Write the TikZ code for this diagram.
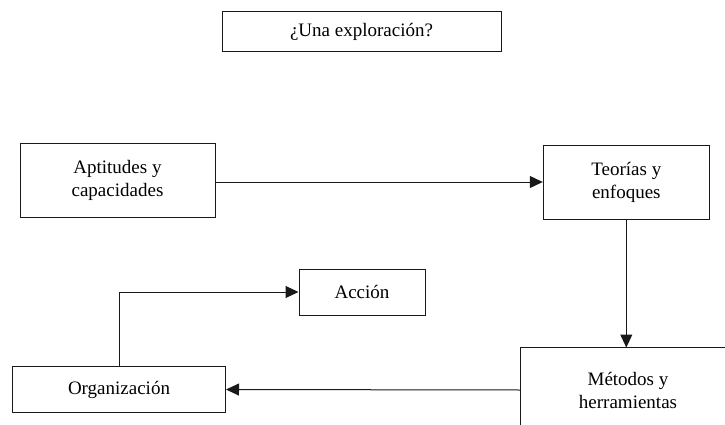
\documentclass[tikz,border=0pt]{standalone}
\usepackage{fontspec}
\setmainfont{Liberation Serif}
\usetikzlibrary{arrows.meta}

\begin{document}
\begin{tikzpicture}[x=1pt,y=-1pt,
  caja/.style={draw=black!90,line width=1pt,align=center,inner sep=0pt,
    font=\fontsize{19}{23}\selectfont},
  flecha/.style={draw=black!90,line width=1pt,-{Triangle[length=13pt,width=12pt]}}]
\useasboundingbox (0,0) rectangle (725,425);

\node[caja,minimum width=279,minimum height=40] (explora) at (361.5,32) {¿Una exploración?};
\node[caja,minimum width=195,minimum height=74] (aptitud) at (117.5,180) {Aptitudes y\\capacidades};
\node[caja,minimum width=166,minimum height=74] (teorias) at (626.3,182) {Teorías y\\enfoques};
\node[caja,minimum width=126,minimum height=46] (accion) at (362,292) {Acción};
\node[caja,minimum width=213,minimum height=46] (organiz) at (119,389.5) {Organización};
% la caja queda cortada por el borde derecho e inferior
\node[caja,draw=none,minimum width=215,minimum height=84] (metodos) at (628,390) {Métodos y\\herramientas};
\coordinate (borde) at (725,0);
\draw[black!90,line width=1pt] (metodos.south west |- 0,425) -- (metodos.north west) -- (metodos.north west -| borde);

\draw[flecha] (aptitud.east |- teorias.west) -- (teorias.west);
\draw[flecha] (teorias.south) -- (teorias.south |- metodos.north);
\draw[flecha] (metodos.west) -- (organiz.east);
\draw[flecha] (organiz.north) |- (accion.west);

\end{tikzpicture}
\end{document}
